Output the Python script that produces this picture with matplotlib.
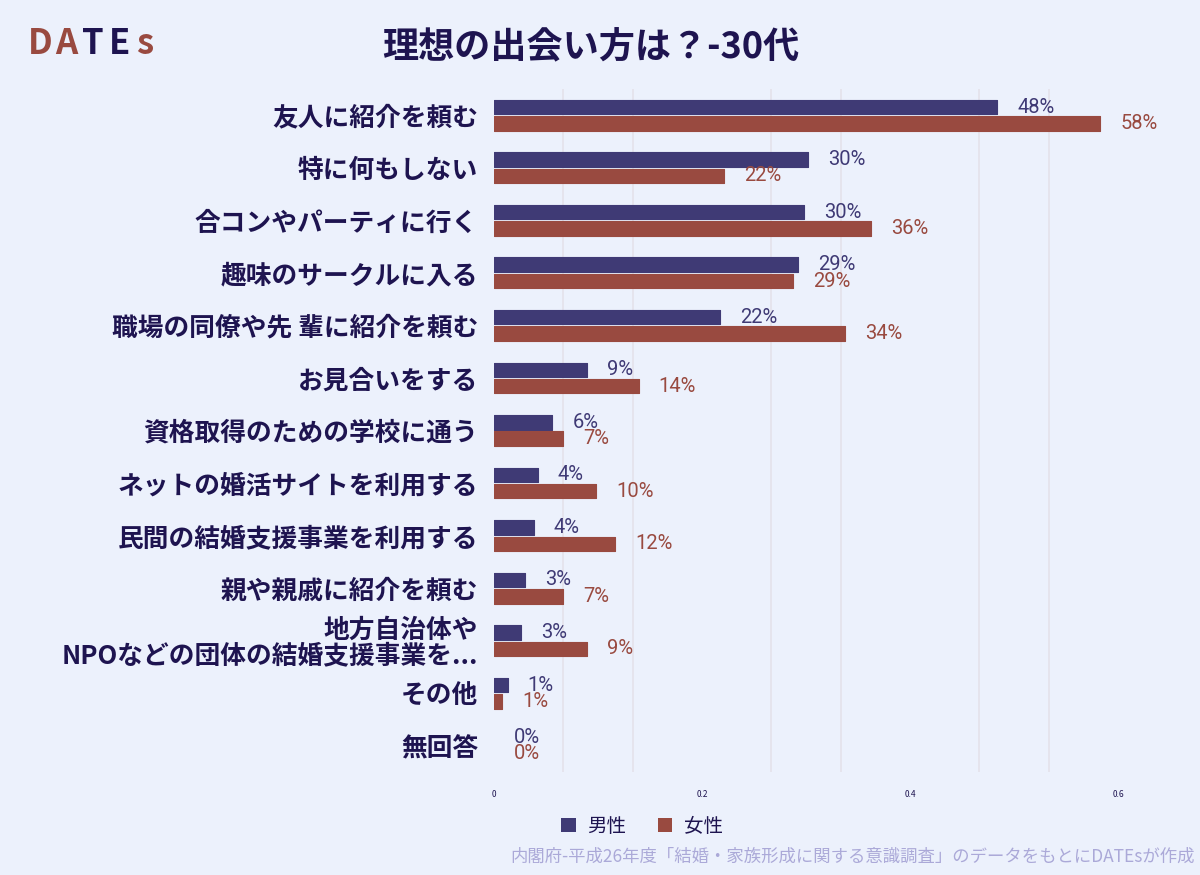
import matplotlib
matplotlib.use('Agg')
import matplotlib.pyplot as plt
import matplotlib.patches as mpatches

plt.rcParams['font.family'] = ['Noto Sans CJK JP', 'DejaVu Sans']

PALETTE = {
    'bg': '#ECF1FC',
    'male': '#3F3A75',
    'female': '#994A40',
    'text': '#1E1450',
    'grid': '#E4E2EA',
    'note': '#ABA9D8',
}

categories = [
    '友人に紹介を頼む',
    '特に何もしない',
    '合コンやパーティに行く',
    '趣味のサークルに入る',
    '職場の同僚や先 輩に紹介を頼む',
    'お見合いをする',
    '資格取得のための学校に通う',
    'ネットの婚活サイトを利用する',
    '民間の結婚支援事業を利用する',
    '親や親戚に紹介を頼む',
    '地方自治体や\nNPOなどの団体の結婚支援事業を...',
    'その他',
    '無回答',
]
male = [0.484, 0.302, 0.298, 0.292, 0.217, 0.089, 0.056, 0.042, 0.038, 0.030, 0.026, 0.013, 0.0]
female = [0.583, 0.221, 0.362, 0.287, 0.337, 0.139, 0.066, 0.098, 0.116, 0.066, 0.089, 0.008, 0.0]
series_names = ['男性', '女性']
x_ticks = [0, 0.2, 0.4, 0.6]

fig = plt.figure(figsize=(12, 8.75), dpi=100, facecolor=PALETTE['bg'])
ax = fig.add_axes([0.4117, 0.1177, 0.5547, 0.7806])
ax.set_facecolor(PALETTE['bg'])

y = list(range(len(categories)))
off, h = 0.156, 0.276

# gridlines sit between the ticks, not on them
for k in range(1, 10):
    if k % 3:
        ax.axvline(k / 15, color=PALETTE['grid'], linewidth=1.2, zorder=0)

for vals, sign, col in [(male, -1, PALETTE['male']), (female, 1, PALETTE['female'])]:
    pos = [i + sign * off for i in y]
    ax.barh(pos, vals, height=h, color=col, edgecolor=col,
            linewidth=[0.8 if v > 0 else 0 for v in vals],
            joinstyle='round', zorder=3)
    for p, v in zip(pos, vals):
        ax.annotate(f'{v:.0%}', xy=(v, p), xytext=(14.5, 0), textcoords='offset points',
                    va='center', ha='left', fontsize=14.5, color=col,
                    family=['Roboto', 'DejaVu Sans'], zorder=4)

ax.set_xlim(0, 0.64)
ax.set_ylim(len(categories) - 0.5, -0.5)
ax.set_xticks(x_ticks)
ax.set_xticklabels([f'{t:g}' for t in x_ticks], fontsize=6, color=PALETTE['text'])
ax.set_yticks(y)
ax.set_yticklabels(categories, fontsize=18.5, fontweight='bold', color=PALETTE['text'])
for lbl in ax.get_yticklabels():
    if '\n' in lbl.get_text():
        lbl.set_linespacing(0.95)
ax.tick_params(axis='x', length=0, pad=13)
ax.tick_params(axis='y', length=0, pad=11.5)
for s in ax.spines.values():
    s.set_visible(False)

fig.text(0.492, 0.945, '理想の出会い方は？-30代', ha='center', va='center',
         fontsize=26, fontweight='bold', color=PALETTE['text'])

# logo text
logo = [('D', PALETTE['female']), ('A', PALETTE['female']), ('T', PALETTE['text']),
        ('E', PALETTE['text']), ('s', PALETTE['female'])]
for i, (ch, col) in enumerate(logo):
    fig.text((28 + i * 27) / 1200, 0.95, ch, ha='left', va='center',
             fontsize=25, fontweight='bold', color=col)

handles = [mpatches.Patch(facecolor=PALETTE['male'], label=series_names[0]),
           mpatches.Patch(facecolor=PALETTE['female'], label=series_names[1])]
leg = fig.legend(handles=handles, loc='center', bbox_to_anchor=(0.535, 0.056), ncol=2,
                 frameon=False, fontsize=14, handlelength=0.75, handleheight=0.75,
                 columnspacing=1.6, handletextpad=0.6)
for t in leg.get_texts():
    t.set_color(PALETTE['text'])

fig.text(0.996, 0.0206, '内閣府-平成26年度「結婚・家族形成に関する意識調査」のデータをもとにDATEsが作成',
         ha='right', va='center', fontsize=12.5, color=PALETTE['note'])

fig.savefig('out.png', dpi=100, facecolor=PALETTE['bg'])
